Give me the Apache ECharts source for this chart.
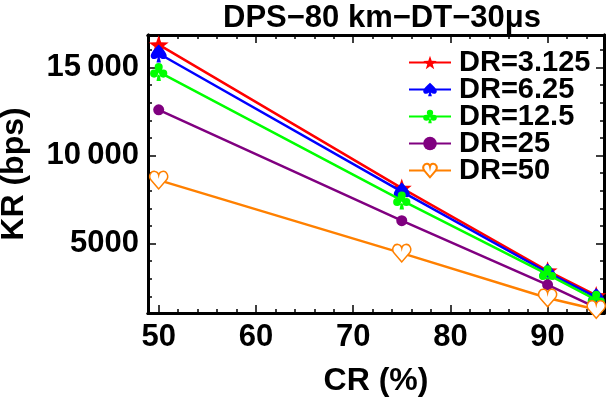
<!DOCTYPE html>
<html>
<head>
<meta charset="utf-8">
<script src="https://cdn.jsdelivr.net/npm/echarts@6/dist/echarts.min.js"></script>
<style>
  html, body { margin: 0; padding: 0; background: #fff; }
  #chart { width: 609px; height: 409px; }
</style>
</head>
<body>
<div id="chart"></div>
<script>
// 数据
const crValues = [50, 75, 90, 95]
const seriesNames = ['DR=3.125', 'DR=6.25', 'DR=12.5', 'DR=25', 'DR=50']
const dr3125 = [16300, 8150, 3450, 2050]
const dr625 = [15800, 7950, 3350, 1950]
const dr125 = [14750, 7450, 3250, 1800]
const dr25 = [12600, 6300, 2650, 1350]
const dr50 = [8600, 4450, 1900, 1250]
const xMajorTicks = [50, 60, 70, 80, 90]
const yMajorTicks = [5000, 10000, 15000]

const colors = ['#ff0000', '#0000ff', '#00ff00', '#800080', '#ff8000']
const font = '"Liberation Sans", Arial, sans-serif'

// 五角星
function starPath () {
  let d = ''
  for (let i = 0; i < 10; i++) {
    const r = i % 2 === 0 ? 50 : 20
    const a = -Math.PI / 2 + i * Math.PI / 5
    d += (i === 0 ? 'M' : 'L') + (50 + r * Math.cos(a)).toFixed(2) + ' ' + (50 + r * Math.sin(a)).toFixed(2) + ' '
  }
  return 'path://' + d + 'Z'
}
const spade = 'path://M50 0 C50 0 0 42 0 62 C0 82 25 88 44 72 L36 100 L64 100 L56 72 C75 88 100 82 100 62 C100 42 50 0 50 0 Z'
const club = 'path://M50 2 A22 22 0 1 1 49.9 2 Z M25 38 A22 22 0 1 1 24.9 38 Z M75 38 A22 22 0 1 1 74.9 38 Z M36 40 L64 40 L64 66 L36 66 Z M38 100 L62 100 L54 55 L46 55 Z'
const heart = 'path://M50 96 L12 52 C-8 30 8 2 30 4 C42 5 48 14 50 24 C52 14 58 5 70 4 C92 2 108 30 88 52 Z'

const symbols = [starPath(), spade, club, 'circle', heart]
const symbolSizes = [20, [16, 18], 18, 11, 18]
const allData = [dr3125, dr625, dr125, dr25, dr50]

const xMinorTicks = []
for (let v = 50; v <= 94; v += 2) xMinorTicks.push(v)
const yMinorTicks = []
for (let v = 2000; v <= 16000; v += 1000) yMinorTicks.push(v)

const xMin = 48.9
const xMax = 95.8
const yMin = 1050
const yMax = 16850

function makeAxis (position, ticks, len, withLabel, extra) {
  return Object.assign({
    type: 'value',
    position: position,
    min: position === 'top' || position === 'bottom' ? xMin : yMin,
    max: position === 'top' || position === 'bottom' ? xMax : yMax,
    axisLine: { show: true, onZero: false, lineStyle: { color: '#000', width: 3 } },
    axisTick: { show: true, inside: true, length: len, customValues: ticks, lineStyle: { color: '#000', width: 1.5 } },
    axisLabel: withLabel ? {} : { show: false },
    splitLine: { show: false }
  }, extra || {})
}

const chart = echarts.init(document.getElementById('chart'))

const option = {
  animation: false,
  backgroundColor: '#fff',
  title: {
    text: 'DPS\u221280 km\u2212DT\u221230\u03bcs',
    left: 377,
    textAlign: 'center',
    top: -2,
    textStyle: { fontFamily: font, fontSize: 31, fontWeight: 'bold', color: '#000' }
  },
  grid: { left: 148, right: 5, top: 35, bottom: 96, outerBoundsMode: 'none', containLabel: false },
  legend: {
    orient: 'vertical',
    left: 403,
    top: 43,
    itemWidth: 42,
    itemHeight: 17,
    itemGap: -2,
    data: seriesNames,
    textStyle: { fontFamily: font, fontSize: 29, fontWeight: 'bold', color: '#000', padding: [0, 0, 0, 3] }
  },
  xAxis: [
    makeAxis('bottom', xMajorTicks, 8, true, {
      name: 'CR (%)',
      nameLocation: 'middle',
      nameGap: 52,
      nameTextStyle: { fontFamily: font, fontSize: 32, fontWeight: 'bold', color: '#000' },
      axisLabel: {
        customValues: xMajorTicks,
        margin: 9,
        fontFamily: font,
        fontSize: 31,
        fontWeight: 'bold',
        color: '#000'
      }
    }),
    makeAxis('bottom', xMinorTicks, 4, false),
    makeAxis('top', xMajorTicks, 8, false),
    makeAxis('top', xMinorTicks, 4, false)
  ],
  yAxis: [
    makeAxis('left', yMajorTicks, 8, true, {
      name: 'KR (bps)',
      nameLocation: 'middle',
      nameGap: 118,
      nameTextStyle: { fontFamily: font, fontSize: 32, fontWeight: 'bold', color: '#000' },
      axisLabel: {
        customValues: yMajorTicks,
        margin: 9,
        fontFamily: font,
        fontSize: 31,
        fontWeight: 'bold',
        color: '#000',
        formatter: v => v >= 10000 ? String(Math.floor(v / 1000)) + '\u2009' + String(v % 1000).padStart(3, '0') : String(v)
      }
    }),
    makeAxis('left', yMinorTicks, 4, false),
    makeAxis('right', yMajorTicks, 8, false),
    makeAxis('right', yMinorTicks, 4, false)
  ],
  series: seriesNames.map((name, i) => ({
    name: name,
    type: 'line',
    xAxisIndex: 0,
    yAxisIndex: 0,
    data: crValues.map((x, j) => [x, allData[i][j]]),
    symbol: symbols[i],
    symbolSize: symbolSizes[i],
    symbolKeepAspect: true,
    showAllSymbol: true,
    lineStyle: { color: colors[i], width: 2.5 },
    itemStyle: i === 4
      ? { color: '#fff', borderColor: colors[i], borderWidth: 1.5 }
      : { color: colors[i] },
    z: 2 + i
  }))
}

chart.setOption(option)
</script>
</body>
</html>
